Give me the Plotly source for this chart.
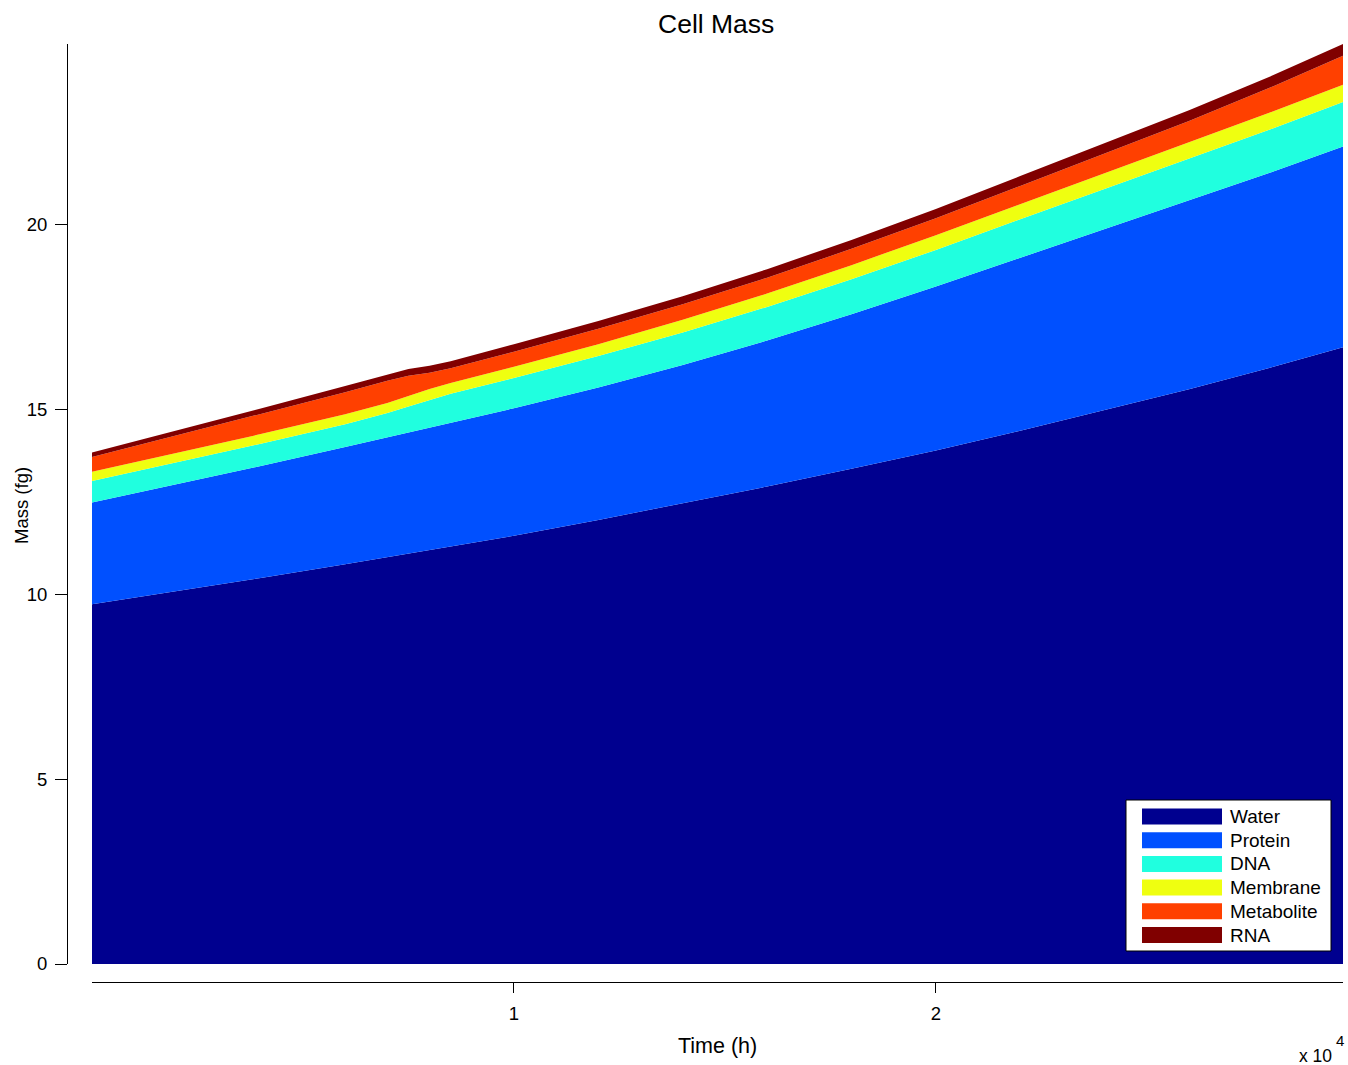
import plotly.graph_objects as go

# ---- data ----
time_s = [0, 2000, 4000, 6000, 7000, 7500, 8000, 8500, 10000, 12000, 14000,
          16000, 18000, 20000, 22000, 24000, 26000, 28000, 29650]
water = [9.73, 10.08, 10.44, 10.81, 11.00, 11.10, 11.19, 11.29, 11.58, 12.01, 12.45,
         12.91, 13.39, 13.89, 14.42, 14.97, 15.54, 16.15, 16.68]
protein = [2.75, 2.89, 3.03, 3.17, 3.24, 3.27, 3.30, 3.33, 3.45, 3.58, 3.75,
           3.95, 4.18, 4.43, 4.68, 4.90, 5.10, 5.28, 5.43]
dna = [0.58, 0.59, 0.60, 0.62, 0.66, 0.71, 0.77, 0.80, 0.82, 0.85, 0.88,
       0.91, 0.95, 0.99, 1.04, 1.09, 1.13, 1.17, 1.20]
membrane = [0.25, 0.26, 0.26, 0.27, 0.27, 0.28, 0.29, 0.29, 0.30, 0.32, 0.34,
            0.36, 0.38, 0.40, 0.41, 0.42, 0.44, 0.46, 0.47]
metabolite = [0.40, 0.47, 0.54, 0.59, 0.60, 0.55, 0.44, 0.40, 0.41, 0.42, 0.42,
              0.43, 0.44, 0.46, 0.49, 0.53, 0.59, 0.68, 0.78]
rna = [0.12, 0.13, 0.15, 0.17, 0.18, 0.18, 0.19, 0.19, 0.20, 0.21, 0.22,
       0.23, 0.24, 0.25, 0.27, 0.28, 0.29, 0.30, 0.32]

series_names = ["Water", "Protein", "DNA", "Membrane", "Metabolite", "RNA"]
series_values = [water, protein, dna, membrane, metabolite, rna]
series_colors = ["#00008F", "#0050FF", "#20FFDF", "#EFFF10", "#FF4000", "#800000"]

y_tick_vals = [0, 5, 10, 15, 20]
x_tick_vals = [10000, 20000]
x_tick_text = ["1", "2"]

# ---- figure geometry (pixels) ----
W, H = 1348, 1065
FONT = "Arial, Liberation Sans, sans-serif"


def px_x(p):
    return p / W


def px_y(p):
    return 1 - p / H


fig = go.Figure()
for name, vals, col in zip(series_names, series_values, series_colors):
    fig.add_trace(go.Scatter(
        x=time_s, y=vals, name=name, mode="lines", stackgroup="one",
        line=dict(width=0, color=col), fillcolor=col, showlegend=False,
        hoverinfo="skip"))

total_max = sum(v[-1] for v in series_values)

fig.update_layout(
    width=W, height=H,
    margin=dict(l=0, r=0, t=0, b=0, autoexpand=False),
    paper_bgcolor="white", plot_bgcolor="white",
    font=dict(family=FONT, color="black"),
    showlegend=False,
    xaxis=dict(
        domain=[px_x(92), px_x(1343)],
        range=[0, time_s[-1]],
        anchor="free", position=px_y(982), automargin=False,
        showline=True, linecolor="black", linewidth=1,
        ticks="outside", ticklen=10, tickcolor="black", tickwidth=1,
        tickvals=x_tick_vals, ticktext=x_tick_text,
        tickfont=dict(size=18.5), ticklabelstandoff=5,
        showgrid=False, zeroline=False,
    ),
    yaxis=dict(
        domain=[px_y(964), px_y(44)],
        range=[0, total_max],
        anchor="free", position=px_x(67), automargin=False,
        showline=True, linecolor="black", linewidth=1,
        ticks="outside", ticklen=12, tickcolor="black", tickwidth=1,
        tickvals=y_tick_vals,
        tickfont=dict(size=18.5), ticklabelstandoff=4,
        showgrid=False, zeroline=False,
    ),
)

ann = []
ann.append(dict(text="Cell Mass", x=px_x(716), y=px_y(24), xref="paper", yref="paper",
                xanchor="center", yanchor="middle", showarrow=False,
                font=dict(size=26.5, family=FONT, color="black")))
ann.append(dict(text="Time (h)", x=px_x(717), y=px_y(1046), xref="paper", yref="paper",
                xanchor="center", yanchor="middle", showarrow=False,
                font=dict(size=21.5, family=FONT, color="black")))
ann.append(dict(text="Mass (fg)", x=px_x(21), y=px_y(506), xref="paper", yref="paper",
                xanchor="center", yanchor="middle", showarrow=False, textangle=-90,
                font=dict(size=18.5, family=FONT, color="black")))
ann.append(dict(text="x 10", x=px_x(1334), y=px_y(1056), xref="paper", yref="paper",
                xanchor="right", yanchor="middle", showarrow=False,
                font=dict(size=17.5, family=FONT, color="black")))
ann.append(dict(text="4", x=px_x(1334), y=px_y(1040), xref="paper", yref="paper",
                xanchor="left", yanchor="middle", showarrow=False,
                font=dict(size=15, family=FONT, color="black")))

# ---- manual legend (box, swatches, labels) ----
shapes = [dict(type="rect", xref="paper", yref="paper",
               x0=px_x(1126), x1=px_x(1331), y0=px_y(951), y1=px_y(800),
               fillcolor="white", line=dict(color="black", width=1), layer="above")]
row0, row_step = 816.5, 23.7
for i, (name, col) in enumerate(zip(series_names, series_colors)):
    cy = row0 + i * row_step
    shapes.append(dict(type="rect", xref="paper", yref="paper",
                       x0=px_x(1142), x1=px_x(1222), y0=px_y(cy + 8), y1=px_y(cy - 8),
                       fillcolor=col, line=dict(width=0), layer="above"))
    ann.append(dict(text=name, x=px_x(1228), y=px_y(cy), xref="paper", yref="paper",
                    xanchor="left", yanchor="middle", showarrow=False,
                    font=dict(size=19, family=FONT, color="black")))

fig.update_layout(annotations=ann, shapes=shapes)
fig.write_html("out.html")
